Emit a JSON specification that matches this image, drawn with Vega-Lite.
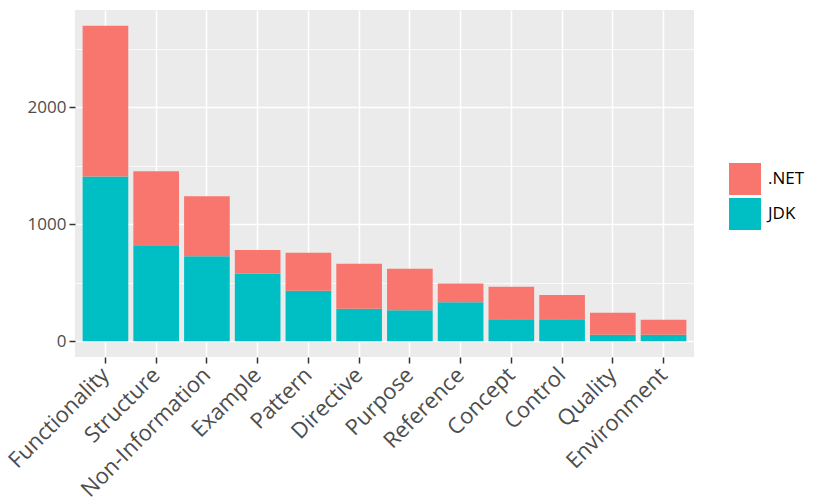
{
  "$schema": "https://vega.github.io/schema/vega-lite/v6.json",
  "autosize": {"type": "none"},
  "padding": {"left": 75, "top": 10, "right": 136, "bottom": 145},
  "width": 619,
  "height": 347,
  "background": "white",
  "data": {
    "values": [
      {"category": "Functionality", "source": "JDK", "count": 1408},
      {"category": "Functionality", "source": ".NET", "count": 1290},
      {"category": "Structure", "source": "JDK", "count": 821},
      {"category": "Structure", "source": ".NET", "count": 632},
      {"category": "Non-Information", "source": "JDK", "count": 726},
      {"category": "Non-Information", "source": ".NET", "count": 513},
      {"category": "Example", "source": "JDK", "count": 576},
      {"category": "Example", "source": ".NET", "count": 205},
      {"category": "Pattern", "source": "JDK", "count": 431},
      {"category": "Pattern", "source": ".NET", "count": 325},
      {"category": "Directive", "source": "JDK", "count": 277},
      {"category": "Directive", "source": ".NET", "count": 385},
      {"category": "Purpose", "source": "JDK", "count": 265},
      {"category": "Purpose", "source": ".NET", "count": 354},
      {"category": "Reference", "source": "JDK", "count": 333},
      {"category": "Reference", "source": ".NET", "count": 160},
      {"category": "Concept", "source": "JDK", "count": 188},
      {"category": "Concept", "source": ".NET", "count": 277},
      {"category": "Control", "source": "JDK", "count": 188},
      {"category": "Control", "source": ".NET", "count": 208},
      {"category": "Quality", "source": "JDK", "count": 55},
      {"category": "Quality", "source": ".NET", "count": 188},
      {"category": "Environment", "source": "JDK", "count": 55},
      {"category": "Environment", "source": ".NET", "count": 128}
    ]
  },
  "mark": {"type": "bar"},
  "encoding": {
    "x": {
      "field": "category",
      "type": "nominal",
      "sort": ["Functionality", "Structure", "Non-Information", "Example", "Pattern", "Directive", "Purpose", "Reference", "Concept", "Control", "Quality", "Environment"],
      "scale": {"paddingInner": 0.1, "paddingOuter": 0.15},
      "axis": {
        "title": null,
        "domain": false,
        "grid": true,
        "gridColor": "white",
        "gridWidth": 1.5,
        "bandPosition": 0.5,
        "tickColor": "#333333",
        "tickSize": 6,
        "tickWidth": 1.5,
        "labelAngle": -45,
        "labelAlign": "right",
        "labelBaseline": "middle",
        "labelFontSize": 22,
        "labelColor": "#4d4d4d",
        "labelPadding": 8
      }
    },
    "y": {
      "field": "count",
      "type": "quantitative",
      "stack": "zero",
      "scale": {"domain": [-135, 2833], "nice": false, "zero": false},
      "axis": {
        "title": null,
        "domain": false,
        "values": [0, 500, 1000, 1500, 2000, 2500],
        "format": "d",
        "labelExpr": "datum.value % 1000 === 0 ? datum.label : ''",
        "grid": true,
        "gridColor": "white",
        "gridWidth": {"condition": {"test": "datum.value % 1000 === 0", "value": 1.5}, "value": 0.75},
        "tickOpacity": {"condition": {"test": "datum.value % 1000 === 0", "value": 1}, "value": 0},
        "tickColor": "#333333",
        "tickSize": 6,
        "tickWidth": 1.5,
        "labelFontSize": 17,
        "labelColor": "#4d4d4d",
        "labelPadding": 3
      }
    },
    "color": {
      "field": "source",
      "type": "nominal",
      "scale": {"domain": [".NET", "JDK"], "range": ["#F8766D", "#00BFC4"]},
      "legend": {
        "title": null,
        "orient": "none",
        "legendX": 654,
        "legendY": 153,
        "padding": 0,
        "symbolType": "square",
        "symbolSize": 1024,
        "symbolStrokeWidth": 0,
        "symbolOpacity": 1,
        "labelFontSize": 17,
        "labelColor": "#000000",
        "labelOffset": 7,
        "rowPadding": 3
      }
    },
    "order": {"field": "source", "sort": "descending"}
  },
  "config": {
    "font": "Open Sans",
    "view": {"fill": "#ebebeb", "stroke": null}
  }
}
